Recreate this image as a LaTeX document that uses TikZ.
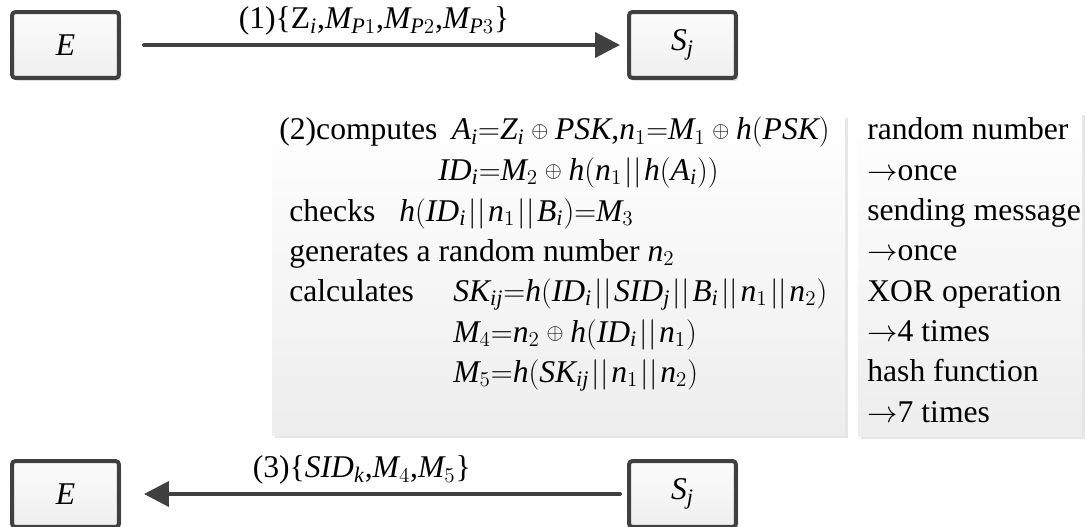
\documentclass[tikz,border=0pt]{standalone}
\usepackage{fontspec}
\setmainfont{Liberation Serif}
\newfontfamily\serifit{Liberation Serif}[NFSSFamily=libser]
\usetikzlibrary{arrows.meta,shadows}

% math letters and digits in the text face
\DeclareSymbolFont{ltrs}{TU}{libser}{m}{it}
\DeclareSymbolFont{dgts}{TU}{libser}{m}{n}
\makeatletter
\count@=`A \loop \Umathcode\count@=7 \symltrs\count@ \ifnum\count@<`Z \advance\count@ 1 \repeat
\count@=`a \loop \Umathcode\count@=7 \symltrs\count@ \ifnum\count@<`z \advance\count@ 1 \repeat
\count@=`0 \loop \Umathcode\count@=7 \symdgts\count@ \ifnum\count@<`9 \advance\count@ 1 \repeat
\Umathcode`(=4 \symdgts`(
\Umathcode`)=5 \symdgts`)
\Umathcode`==3 \symdgts`=
\Umathcode`,=6 \symdgts`,
\makeatother

\newcommand{\xor}{\mathbin{\vcenter{\hbox{\scalebox{0.72}{$\oplus$}}}}}
\newcommand{\cc}{\mskip1.5mu||\mskip1.5mu}

\definecolor{boxline}{HTML}{404040}

\begin{document}
\begin{tikzpicture}[x={(0.02cm,0cm)}, y={(0cm,-0.02cm)},
    every node/.style={font=\fontsize{18}{22}\selectfont},
    party/.style={draw=boxline, line width=0.08cm, rounded corners=2pt,
      minimum width=2.14cm, minimum height=1.32cm, inner sep=0pt,
      top color=gray!2, bottom color=gray!13,
      drop shadow={shadow xshift=0.05cm, shadow yshift=-0.06cm, opacity=0.25}},
    msg/.style={draw=boxline, line width=0.08cm, line cap=round,
      -{Triangle[length=0.5cm,width=0.5cm]}},
    panel/.style={top color=white, bottom color=gray!14,
      drop shadow={shadow xshift=0.06cm, shadow yshift=-0.06cm, opacity=0.2}},
    txt/.style={anchor=base west, inner sep=0pt}]
  \useasboundingbox (0,0) rectangle (1086,527);

  % the two parties, top and bottom
  \node[party] (E1) at (65.5,45) {$E$};
  \node[party] (S1) at (682.5,45) {$S_j$};
  \node[party] (E2) at (65.5,494) {$E$};
  \node[party] (S2) at (682.5,494) {$S_j$};

  \draw[msg, shorten <=0.46cm, shorten >=0.14cm] (E1) -- (S1)
    node[pos=0.5, above=1pt] {(1)\{$\mathrm{Z}_i{,}M_{P1}{,}M_{P2}{,}M_{P3}$\}};
  \draw[msg, shorten <=0.14cm, shorten >=0.46cm] (S2) -- (E2)
    node[pos=0.524, above=1pt] {(3)\{$SID_k{,}M_4{,}M_5$\}};

  % computation on S_j
  \path[panel] (272,115) rectangle (845,435);
  \path[panel] (858,112) rectangle (1082,436);

  \node[txt] (c1) at (279,140) {\makebox[3.45cm][l]{(2)computes}$A_i{=}Z_i\xor PSK{,}n_1{=}M_1\xor h(PSK)$};
  \node[txt] (c2) at (438,180) {$ID_i{=}M_2\xor h(n_1\cc h(A_i))$};
  \node[txt] (c3) at (289,221) {\makebox[2.2cm][l]{checks}$h(ID_i\cc n_1\cc B_i){=}M_3$};
  \node[txt] (c4) at (289,261) {generates a random number $n_2$};
  \node[txt] (c5) at (289,301) {\makebox[3.28cm][l]{calculates}$SK_{ij}{=}h(ID_i\cc SID_j\cc B_i\cc n_1\cc n_2)$};
  \node[txt] (c6) at (453,342) {$M_4{=}n_2\xor h(ID_i\cc n_1)$};
  \node[txt] (c7) at (453,382) {$M_5{=}h(SK_{ij}\cc n_1\cc n_2)$};

  % cost summary
  \foreach \cost [count=\k from 0] in {random number, $\rightarrow$once,
      sending message, $\rightarrow$once, XOR operation, $\rightarrow$4 times,
      hash function, $\rightarrow$7 times}
    \node[txt] (r\k) at (867,140+40.3*\k) {\cost};
\end{tikzpicture}
\end{document}
